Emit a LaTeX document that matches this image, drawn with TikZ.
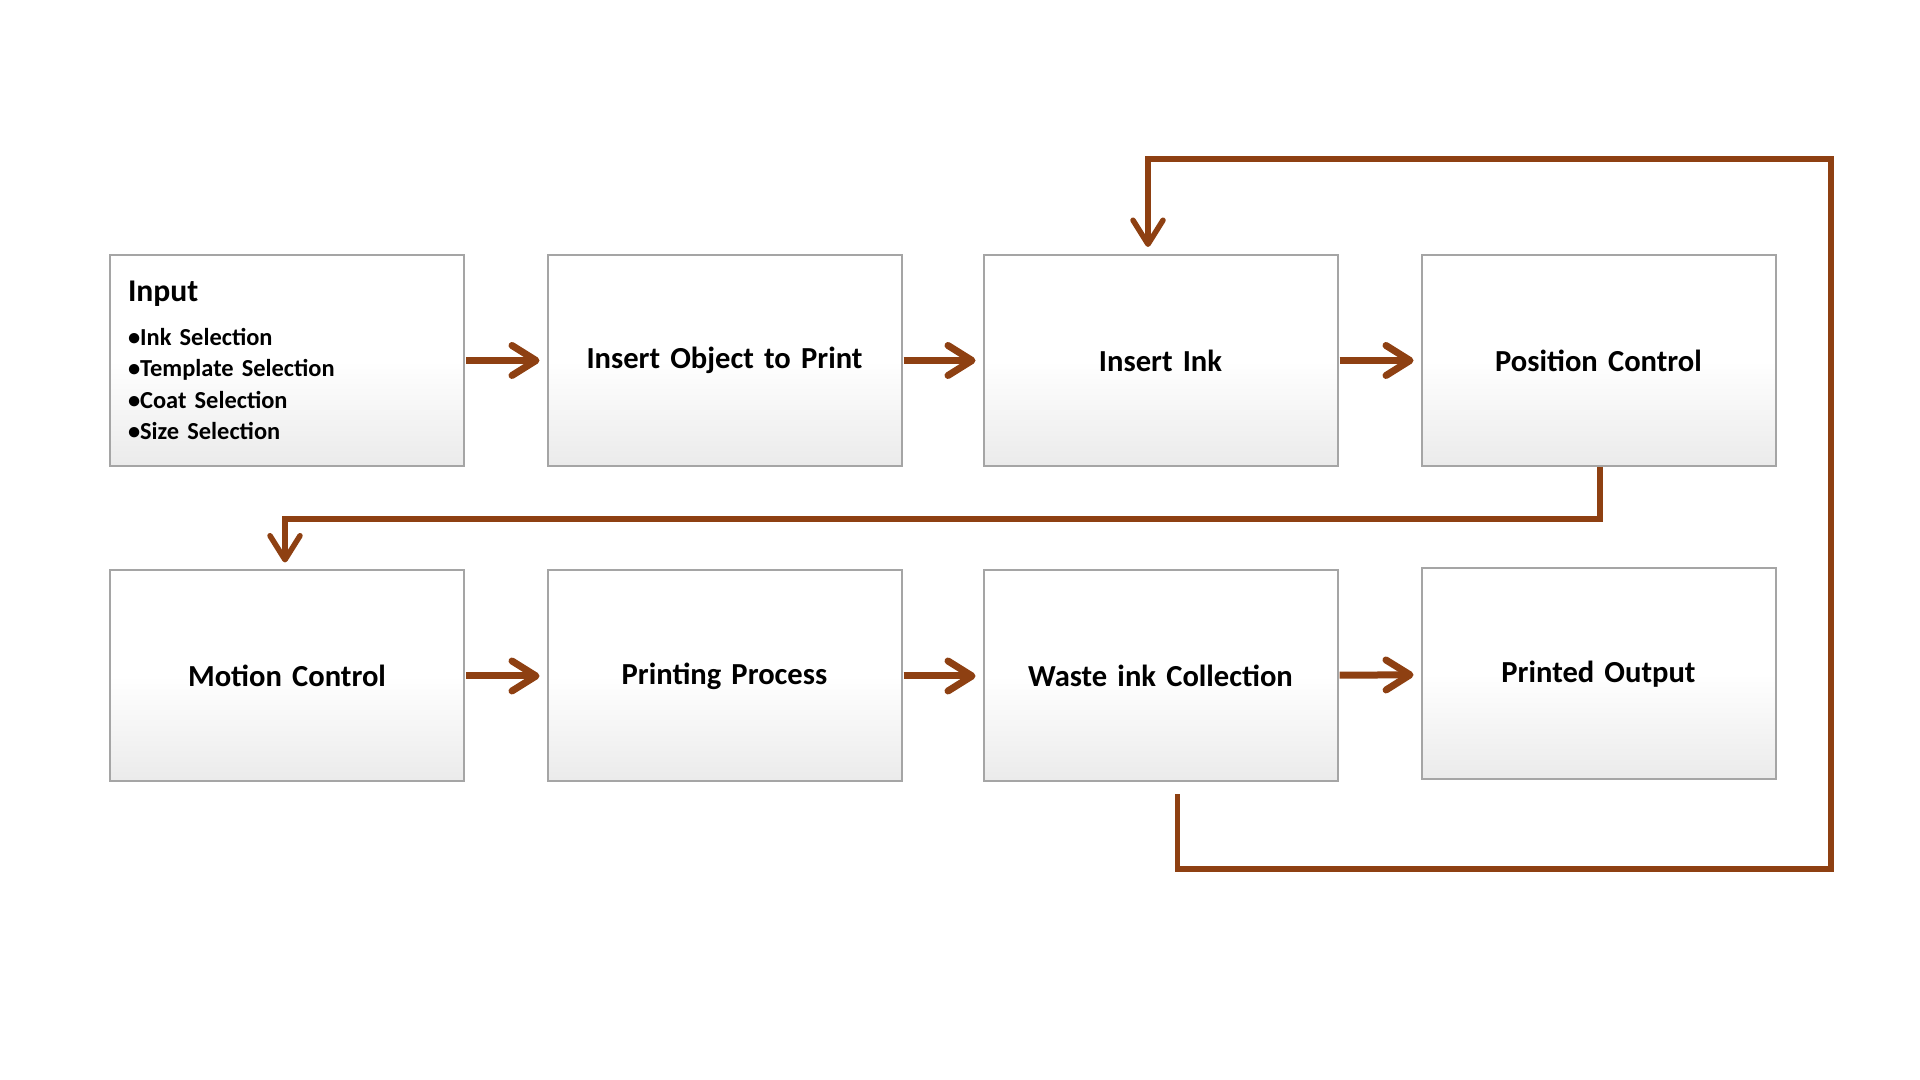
\documentclass[tikz,border=0pt]{standalone}
\usepackage{fontspec}
\setmainfont{Carlito}[WordSpace=0.8]
\usepackage{tikz}
\usetikzlibrary{arrows.meta,positioning,calc}
\definecolor{flowbrown}{RGB}{142,64,18}
\definecolor{boxedge}{RGB}{165,165,165}

\begin{document}
\begin{tikzpicture}[
    stage/.style={rectangle, draw=boxedge, line width=0.02cm, top color=white, bottom color=gray!16, middle color=white, minimum width=3.54cm, minimum height=2.11cm, text width=3.18cm, inner xsep=0.18cm, align=center, font=\fontsize{8.7}{10.5}\selectfont\bfseries},
    arrow/.style={-{Straight Barb[length=0.24cm, width=0.3cm, round]}, line width=0.07cm, flowbrown, shorten <=0.01cm, shorten >=0.07cm},
    feed/.style={-{Straight Barb[length=0.24cm, width=0.3cm, round]}, line width=0.055cm, flowbrown, shorten >=0.07cm}
]
    \path[fill=white, use as bounding box] (0,0) rectangle (19.2,10.8);

    % First row
    \node[stage, align=left, font=\fontsize{6.95}{9}\selectfont\bfseries] (input) at (2.87,7.195) {{\fontsize{9}{9}\selectfont Input}\\[0.12cm]
        •Ink Selection\\ •Template Selection\\ •Coat Selection\\ •Size Selection};
    \node[stage] (insobj) at (7.245,7.195) {Insert Object to Print};
    \node[stage] (insink) at (11.605,7.195) {Insert Ink};
    \node[stage] (poscon) at (15.985,7.195) {Position Control};

    % Second row
    \node[stage] (motion) at (2.87,4.04) {Motion Control};
    \node[stage] (printing) at (7.245,4.04) {Printing Process};
    \node[stage] (waste) at (11.605,4.04) {Waste ink Collection};
    \node[stage] (output) at (15.985,4.06) {Printed Output};

    % Arrows
    \draw[arrow] (input) -- (insobj);
    \draw[arrow] (insobj) -- (insink);
    \draw[arrow] (insink) -- (poscon);
    \draw[arrow] (motion) -- (printing);
    \draw[arrow] (printing) -- (waste);
    \draw[arrow] (waste) -- (output);

    % Return lines
    \draw[feed] ([xshift=0.015cm]poscon.south) -- ++(0,-0.52) -| ([xshift=-0.02cm]motion.north);
    \draw[feed] ([xshift=0.17cm,yshift=-0.12cm]waste.south) |- (18.31,2.11) -- (18.31,9.21) -| ([xshift=-0.125cm]insink.north);
\end{tikzpicture}
\end{document}
